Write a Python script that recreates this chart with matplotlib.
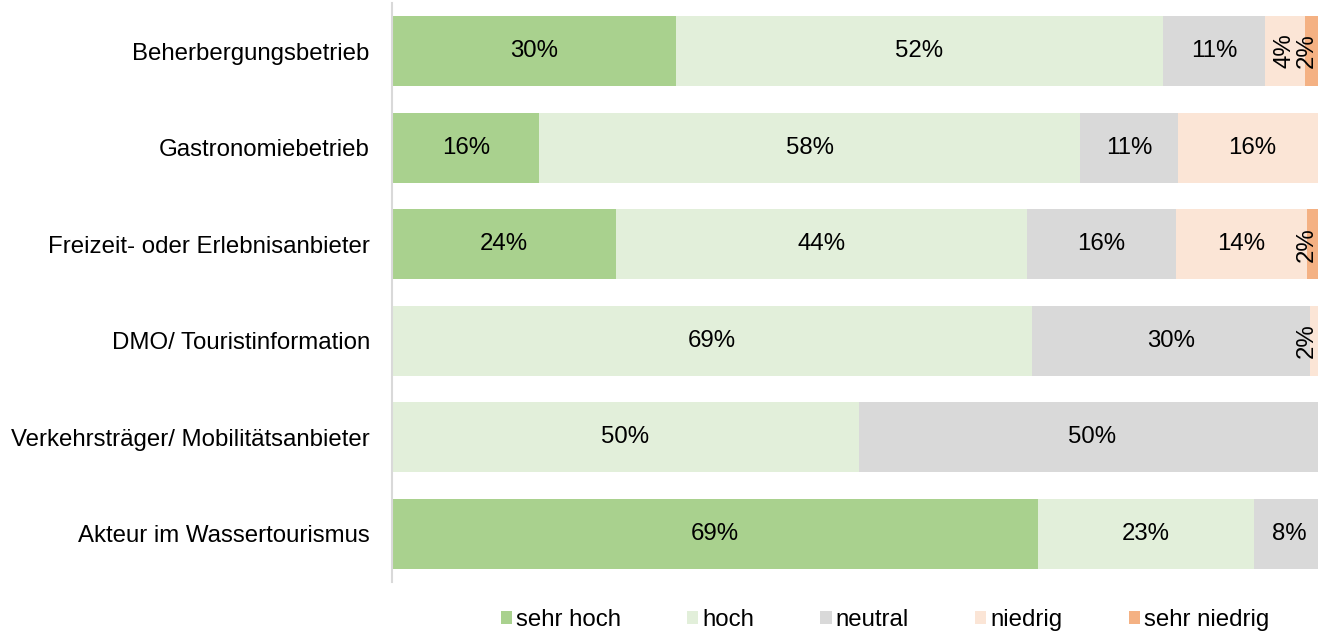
import numpy as np
import matplotlib.pyplot as plt
from matplotlib.patches import Patch

plt.rcParams['font.family'] = ['Liberation Sans', 'DejaVu Sans']

categories = ['Beherbergungsbetrieb', 'Gastronomiebetrieb', 'Freizeit- oder Erlebnisanbieter',
              'DMO/ Touristinformation', 'Verkehrsträger/ Mobilitätsanbieter', 'Akteur im Wassertourismus']
levels = ['sehr hoch', 'hoch', 'neutral', 'niedrig', 'sehr niedrig']
colors = ['#A9D18E', '#E2EFDA', '#D9D9D9', '#FBE5D6', '#F4B183']

# Anteile in Prozent je Kategorie
sehr_hoch = [30.4, 15.79, 24.0, 0.0, 0.0, 69.2]
hoch = [52.2, 57.89, 44.0, 68.6, 50.0, 23.1]
neutral = [10.9, 10.53, 16.0, 29.7, 50.0, 7.7]
niedrig = [4.3, 15.79, 14.0, 1.7, 0.0, 0.0]
sehr_niedrig = [2.2, 0.0, 2.0, 0.0, 0.0, 0.0]

series = [sehr_hoch, hoch, neutral, niedrig, sehr_niedrig]
fs = 17.3

fig = plt.figure(figsize=(13.18, 6.32), dpi=100)
ax = fig.add_axes([392 / 1318, 49.7 / 632, 933.4 / 1318, 579.6 / 632])

y = np.arange(len(categories))
left = np.zeros(len(categories))
for vals, col in zip(series, colors):
    vals = np.array(vals)
    ax.barh(y, vals, left=left, height=0.725, color=col, zorder=2)
    for yi, (l, v) in enumerate(zip(left, vals)):
        if v <= 0:
            continue
        x = l + v / 2
        rot = 0
        if v < 5:
            # schmale Segmente: senkrechte Beschriftung, im sichtbaren Bereich halten
            rot = 90
            x = min(x, 98.0)
        ax.text(x, yi, f'{v:.0f}%', ha='center', va='center',
                rotation=rot, fontsize=fs, color='#000000', zorder=3)
    left += vals

ax.set_xlim(0, 100)
ax.set_ylim(len(categories) - 0.5, -0.5)
ax.set_yticks(y)
ax.set_yticklabels(categories, fontsize=fs)
ax.tick_params(axis='y', length=0, pad=16)
ax.set_xticks([])
for s in ['top', 'right', 'bottom']:
    ax.spines[s].set_visible(False)
ax.spines['left'].set_color('#D9D9D9')
ax.spines['left'].set_linewidth(1.5)

handles = [Patch(facecolor=c, edgecolor='none', label=l) for c, l in zip(colors, levels)]
fig.legend(handles=handles, loc='center', bbox_to_anchor=(885 / 1318, 12 / 632), ncol=5,
           frameon=False, fontsize=fs, handlelength=0.47, handleheight=0.47,
           handletextpad=0.17, columnspacing=2.75, borderpad=0)

fig.savefig('out.png', dpi=100)
